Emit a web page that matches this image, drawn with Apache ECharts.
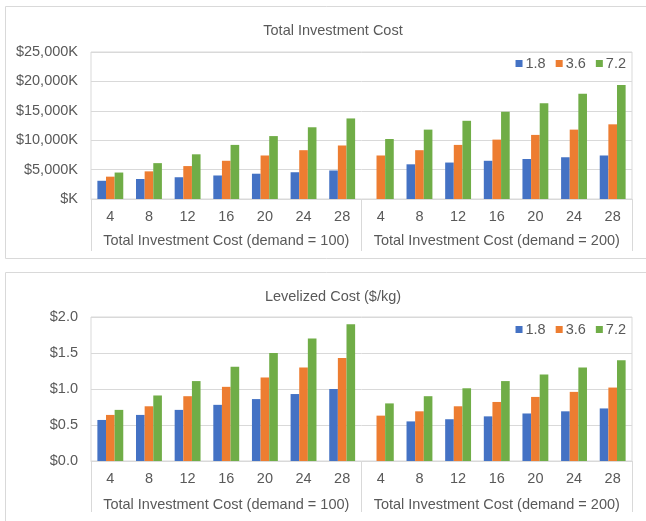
<!DOCTYPE html>
<html>
<head>
<meta charset="utf-8">
<script src="https://cdn.jsdelivr.net/npm/echarts@6/dist/echarts.min.js"></script>
<style>
  html, body { margin: 0; padding: 0; background: #ffffff; }
  #chart { width: 646px; height: 521px; }
</style>
</head>
<body>
<div id="chart"></div>
<script>
// Category labels (hours of storage) and the two demand groups
const categories = ['4', '8', '12', '16', '20', '24', '28', '4', '8', '12', '16', '20', '24', '28'];
const groups = ['Total Investment Cost (demand = 100)', 'Total Investment Cost (demand = 200)'];
const seriesNames = ['1.8', '3.6', '7.2'];
const colors = ['#4472C4', '#ED7D31', '#70AD47'];

// Total investment cost, $K
const invest18 = [3100, 3400, 3700, 4000, 4300, 4550, 4850, null, 5900, 6200, 6500, 6800, 7100, 7400];
const invest36 = [3800, 4700, 5600, 6500, 7400, 8300, 9100, 7400, 8300, 9200, 10100, 10900, 11800, 12700];
const invest72 = [4500, 6100, 7600, 9200, 10700, 12200, 13700, 10200, 11800, 13300, 14850, 16300, 17900, 19400];

// Levelized cost, $/kg
const lcoh18 = [0.57, 0.64, 0.71, 0.78, 0.86, 0.93, 1.00, null, 0.55, 0.58, 0.62, 0.66, 0.69, 0.73];
const lcoh36 = [0.64, 0.76, 0.90, 1.03, 1.16, 1.30, 1.43, 0.63, 0.69, 0.76, 0.82, 0.89, 0.96, 1.02];
const lcoh72 = [0.71, 0.91, 1.11, 1.31, 1.50, 1.70, 1.90, 0.80, 0.90, 1.01, 1.11, 1.20, 1.30, 1.40];

const FONT = '"Liberation Sans", Arial, sans-serif';
const FS = 14.5;
const TXT = '#595959';
const LINE = '#d9d9d9';

const chart = echarts.init(document.getElementById('chart'), null, { renderer: 'canvas' });

function catAxis(gridIndex, margin) {
  return {
    type: 'category', gridIndex: gridIndex, data: categories, position: 'bottom',
    axisLine: { show: true, lineStyle: { color: LINE } },
    axisTick: { show: false },
    axisLabel: { color: TXT, fontSize: FS, fontFamily: FONT, margin: margin, interval: 0 }
  };
}
function groupAxis(gridIndex, margin, tickLen) {
  return {
    type: 'category', gridIndex: gridIndex, data: groups, position: 'bottom',
    axisLine: { show: false },
    axisTick: { show: true, length: tickLen, lineStyle: { color: LINE } },
    axisLabel: { color: TXT, fontSize: FS, fontFamily: FONT, margin: margin, interval: 0 }
  };
}
function bars(values, i, axisIndex) {
  return {
    type: 'bar', name: seriesNames[i], data: values,
    xAxisIndex: axisIndex, yAxisIndex: axisIndex / 2,
    barGap: '0%', barCategoryGap: '33%',
    itemStyle: { color: colors[i] }
  };
}
function legend(top) {
  return {
    data: seriesNames, right: 20, top: top, padding: 0,
    icon: 'rect', itemWidth: 7, itemHeight: 7, itemGap: 10,
    textStyle: { color: TXT, fontSize: FS, fontFamily: FONT, padding: [0, 0, 0, -2] }
  };
}

chart.setOption({
  animation: false,
  textStyle: { fontFamily: FONT },
  graphic: [
    { type: 'rect', shape: { x: 5.5, y: 6.5, width: 660, height: 252 },
      style: { fill: 'none', stroke: LINE, lineWidth: 1 }, silent: true },
    { type: 'rect', shape: { x: 5.5, y: 272.5, width: 660, height: 260 },
      style: { fill: 'none', stroke: LINE, lineWidth: 1 }, silent: true }
  ],
  title: [
    { text: 'Total Investment Cost', left: 328, textAlign: 'center', top: 18,
      textStyle: { color: TXT, fontSize: FS, fontWeight: 'normal', fontFamily: FONT } },
    { text: 'Levelized Cost ($/kg)', left: 328, textAlign: 'center', top: 284,
      textStyle: { color: TXT, fontSize: FS, fontWeight: 'normal', fontFamily: FONT } }
  ],
  legend: [legend(56), legend(322)],
  grid: [
    { left: 91, top: 52, width: 541, height: 147, show: true, borderColor: LINE, borderWidth: 1 },
    { left: 91, top: 317, width: 541, height: 144, show: true, borderColor: LINE, borderWidth: 1 }
  ],
  xAxis: [
    catAxis(0, 10), groupAxis(0, 34, 52),
    catAxis(1, 10), groupAxis(1, 36, 51)
  ],
  yAxis: [
    { type: 'value', gridIndex: 0, min: 0, max: 25000, interval: 5000,
      axisLine: { show: false }, axisTick: { show: false },
      splitLine: { lineStyle: { color: LINE } },
      axisLabel: { color: TXT, fontSize: FS, fontFamily: FONT, margin: 13,
        formatter: v => v === 0 ? '$K' : '$' + v.toLocaleString('en-US') + 'K' } },
    { type: 'value', gridIndex: 1, min: 0, max: 2, interval: 0.5,
      axisLine: { show: false }, axisTick: { show: false },
      splitLine: { lineStyle: { color: LINE } },
      axisLabel: { color: TXT, fontSize: FS, fontFamily: FONT, margin: 13,
        formatter: v => '$' + v.toFixed(1) } }
  ],
  series: [
    bars(invest18, 0, 0), bars(invest36, 1, 0), bars(invest72, 2, 0),
    bars(lcoh18, 0, 2), bars(lcoh36, 1, 2), bars(lcoh72, 2, 2)
  ]
});
</script>
</body>
</html>
